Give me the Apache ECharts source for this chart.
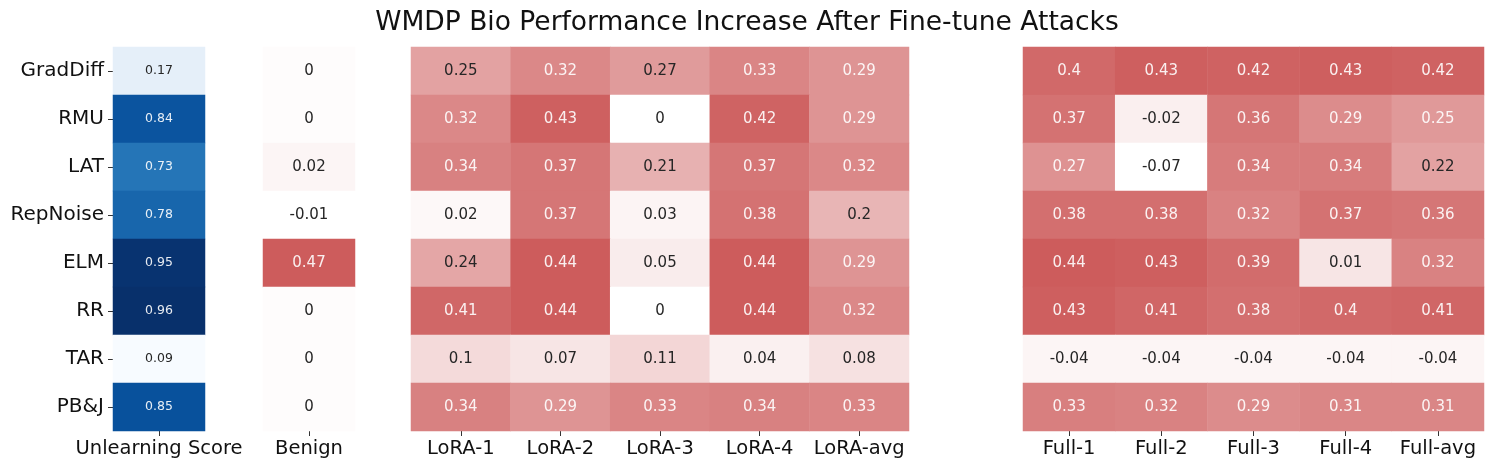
<!DOCTYPE html>
<html><head><meta charset="utf-8">
<script src="https://cdn.jsdelivr.net/npm/echarts@6/dist/echarts.min.js"></script>
<style>html,body{margin:0;padding:0;background:#fff}#c{width:1494px;height:470px}</style>
</head><body><div id="c"></div>
<script>
const methods = ["GradDiff","RMU","LAT","RepNoise","ELM","RR","TAR","PB&J"];
const scoreCols = ["Unlearning Score"];
const benignCols = ["Benign"];
const loraCols = ["LoRA-1","LoRA-2","LoRA-3","LoRA-4","LoRA-avg"];
const fullCols = ["Full-1","Full-2","Full-3","Full-4","Full-avg"];
const unlearningScore = [0.17,0.84,0.73,0.78,0.95,0.96,0.09,0.85];
const benign = [0,0,0.02,-0.01,0.47,0,0,0];
const lora = [
  [0.25,0.32,0.27,0.33,0.29],
  [0.32,0.43,0,0.42,0.29],
  [0.34,0.37,0.21,0.37,0.32],
  [0.02,0.37,0.03,0.38,0.2],
  [0.24,0.44,0.05,0.44,0.29],
  [0.41,0.44,0,0.44,0.32],
  [0.1,0.07,0.11,0.04,0.08],
  [0.34,0.29,0.33,0.34,0.33]
];
const full = [
  [0.4,0.43,0.42,0.43,0.42],
  [0.37,-0.02,0.36,0.29,0.25],
  [0.27,-0.07,0.34,0.34,0.22],
  [0.38,0.38,0.32,0.37,0.36],
  [0.44,0.43,0.39,0.01,0.32],
  [0.43,0.41,0.38,0.4,0.41],
  [-0.04,-0.04,-0.04,-0.04,-0.04],
  [0.33,0.32,0.29,0.31,0.31]
];
const title = "WMDP Bio Performance Increase After Fine-tune Attacks";

const blues = ['#f7fbff','#deebf7','#c6dbef','#9ecae1','#6baed6','#4292c6','#2171b5','#08519c','#08306b'];
const reds = ['#ffffff','#cd5c5c'];
const FONT = 'DejaVu Sans';

function build(matrix, thr) {
  const flat = matrix.flat();
  const mn = Math.min(...flat), mx = Math.max(...flat);
  const out = [];
  matrix.forEach((row, r) => row.forEach((v, c) => {
    const t = (v - mn) / (mx - mn);
    out.push({value:[c, r, v], label:{color: t > thr ? 'rgba(255,255,255,0.9)' : '#262626'}});
  }));
  return {data: out, min: mn, max: mx};
}
const d0 = build(unlearningScore.map(v=>[v]), 0.55);
const d1 = build(benign.map(v=>[v]), 0.62);
const d2 = build(lora, 0.62);
const d3 = build(full, 0.62);

const TOP = 47, H = 384;
const grids = [
  {left:113, width:92, top:TOP, height:H},
  {left:263, width:92, top:TOP, height:H},
  {left:411, width:498, top:TOP, height:H},
  {left:1023, width:461, top:TOP, height:H}
];
const colsList = [scoreCols, benignCols, loraCols, fullCols];
const xAxis = colsList.map((cols, i) => ({
  type:'category', data:cols, gridIndex:i, position:'bottom',
  axisLine:{show:false},
  axisTick:{show:true, length:5, alignWithLabel:true, interval:0, lineStyle:{color:'#333'}},
  axisLabel:{fontFamily:FONT, fontSize:19.5, color:'#111', margin:8, interval:0},
  splitArea:{show:false}
}));
const yAxis = colsList.map((cols, i) => ({
  type:'category', data:methods, gridIndex:i, inverse:true,
  axisLine:{show:false},
  axisTick:{show:i===0, length:5, alignWithLabel:true, interval:0, lineStyle:{color:'#333'}},
  axisLabel:{show:i===0, fontFamily:FONT, fontSize:20, color:'#111', margin:9, interval:0}
}));
const datasets = [d0,d1,d2,d3];
const visualMap = datasets.map((d, i) => ({
  show:false, type:'continuous', seriesIndex:i, dimension:2,
  min:d.min, max:d.max, inRange:{color: i===0 ? blues : reds}
}));
const series = datasets.map((d, i) => ({
  type:'heatmap', xAxisIndex:i, yAxisIndex:i, data:d.data,
  label:{show:true, fontFamily:FONT, fontSize: i===0 ? 12.5 : 15,
    formatter: p => String(p.value[2])},
  itemStyle:{borderWidth:0},
  emphasis:{disabled:true}
}));

const chart = echarts.init(document.getElementById('c'), null, {renderer:'canvas'});
chart.setOption({
  animation:false,
  backgroundColor:'#fff',
  title:{text:title, left:'center', top:5,
    textStyle:{fontFamily:FONT, fontSize:26.5, fontWeight:'normal', color:'#111'}},
  grid:grids, xAxis, yAxis, visualMap, series
});
</script></body></html>
